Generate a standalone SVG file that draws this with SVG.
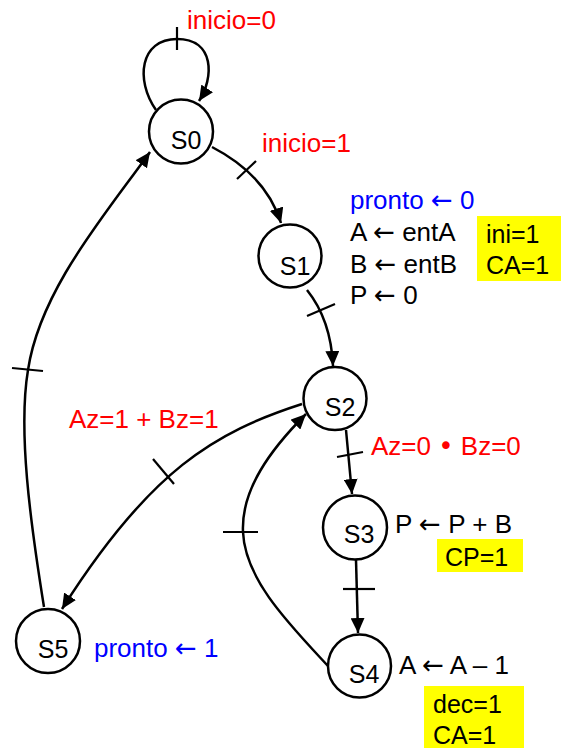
<svg xmlns="http://www.w3.org/2000/svg" width="562" height="748" viewBox="0 0 562 748">
<style>
text{font-family:"Liberation Sans",Arial,sans-serif;font-size:26px;fill:#000}
.ar{font-family:"DejaVu Sans",sans-serif}
.st{fill:#fff;stroke:#000;stroke-width:2.5}
.lbl{font-size:25px}
.red{fill:#ff0000}
.blue{fill:#0000ff}
.hl{fill:#ffff00}
.edge{fill:none;stroke:#000;stroke-width:2.5}
.tick{stroke:#000;stroke-width:2.2}
</style>
<defs>
<marker id="ah" markerUnits="userSpaceOnUse" markerWidth="16" markerHeight="14" refX="15" refY="7" orient="auto">
<path d="M0,0 L15,7 L0,14 z" fill="#000"/>
</marker>
</defs>
<g id="connectors">
<path class="edge" d="M156,110 C135,80 140,39 177,39 C215,39 214,78 199,101" marker-end="url(#ah)"/>
<line class="tick" x1="177" y1="27" x2="177" y2="50"/>
<path class="edge" d="M212,147 Q266,175 281,223" marker-end="url(#ah)"/>
<line class="tick" x1="237" y1="179" x2="256" y2="161"/>
<path class="edge" d="M307,290 Q331,320 333,366" marker-end="url(#ah)"/>
<line class="tick" x1="307" y1="316" x2="335" y2="304"/>
<path class="edge" d="M346,430 L352,494" marker-end="url(#ah)"/>
<line class="tick" x1="337" y1="457" x2="363" y2="452"/>
<path class="edge" d="M356,560 L358,633" marker-end="url(#ah)"/>
<line class="tick" x1="343" y1="589" x2="375" y2="589"/>
<path class="edge" d="M328,666 C290,625 245,580 243,532 C241,490 270,450 306,414" marker-end="url(#ah)"/>
<line class="tick" x1="223" y1="532" x2="258" y2="532"/>
<path class="edge" d="M302,404 C215,432 150,470 62,609" marker-end="url(#ah)"/>
<line class="tick" x1="153" y1="459" x2="174" y2="484"/>
<path class="edge" d="M44,607 C30,520 18,430 28,370 C40,290 105,215 150,152" marker-end="url(#ah)"/>
<line class="tick" x1="12" y1="368" x2="43" y2="371"/>
</g>
<g id="labels">
<text class="red" x="187" y="29">inicio=0</text>
<text class="red" x="262" y="152">inicio=1</text>
<text class="red" x="371" y="455">Az=0 <tspan class="ar">•</tspan> Bz=0</text>
<text class="red" x="69" y="428">Az=1 + Bz=1</text>
</g>
<g id="S0">
<circle class="st" cx="181" cy="131.5" r="32"/>
<text class="lbl" x="186" y="149" text-anchor="middle">S0</text>
</g>
<g id="S1">
<circle class="st" cx="290" cy="256" r="31.5"/>
<text class="lbl" x="295" y="275" text-anchor="middle">S1</text>
<text class="blue" x="350" y="209">pronto <tspan class="ar">←</tspan> 0</text>
<text x="350" y="241">A <tspan class="ar">←</tspan> entA</text>
<text x="350" y="273">B <tspan class="ar">←</tspan> entB</text>
<text x="350" y="304">P <tspan class="ar">←</tspan> 0</text>
<rect class="hl" x="477" y="216" width="84" height="65"/>
<text class="lbl" x="486" y="243">ini=1</text>
<text class="lbl" x="486" y="274">CA=1</text>
</g>
<g id="S2">
<circle class="st" cx="335" cy="398.5" r="31.5"/>
<text class="lbl" x="340" y="416" text-anchor="middle">S2</text>
</g>
<g id="S3">
<circle class="st" cx="355" cy="527.5" r="32"/>
<text class="lbl" x="359" y="543" text-anchor="middle">S3</text>
<text x="395" y="533">P <tspan class="ar">←</tspan> P + B</text>
<rect class="hl" x="437" y="539" width="86" height="33"/>
<text class="lbl" x="445" y="566">CP=1</text>
</g>
<g id="S4">
<circle class="st" cx="359.5" cy="666" r="31.5"/>
<text class="lbl" x="364" y="683" text-anchor="middle">S4</text>
<text x="399" y="674">A <tspan class="ar">←</tspan> A – 1</text>
<rect class="hl" x="424" y="686" width="100" height="62"/>
<text class="lbl" x="433" y="713">dec=1</text>
<text class="lbl" x="433" y="744">CA=1</text>
</g>
<g id="S5">
<circle class="st" cx="48" cy="641" r="32"/>
<text class="lbl" x="53" y="658" text-anchor="middle">S5</text>
<text class="blue" x="94" y="657">pronto <tspan class="ar">←</tspan> 1</text>
</g>
</svg>
